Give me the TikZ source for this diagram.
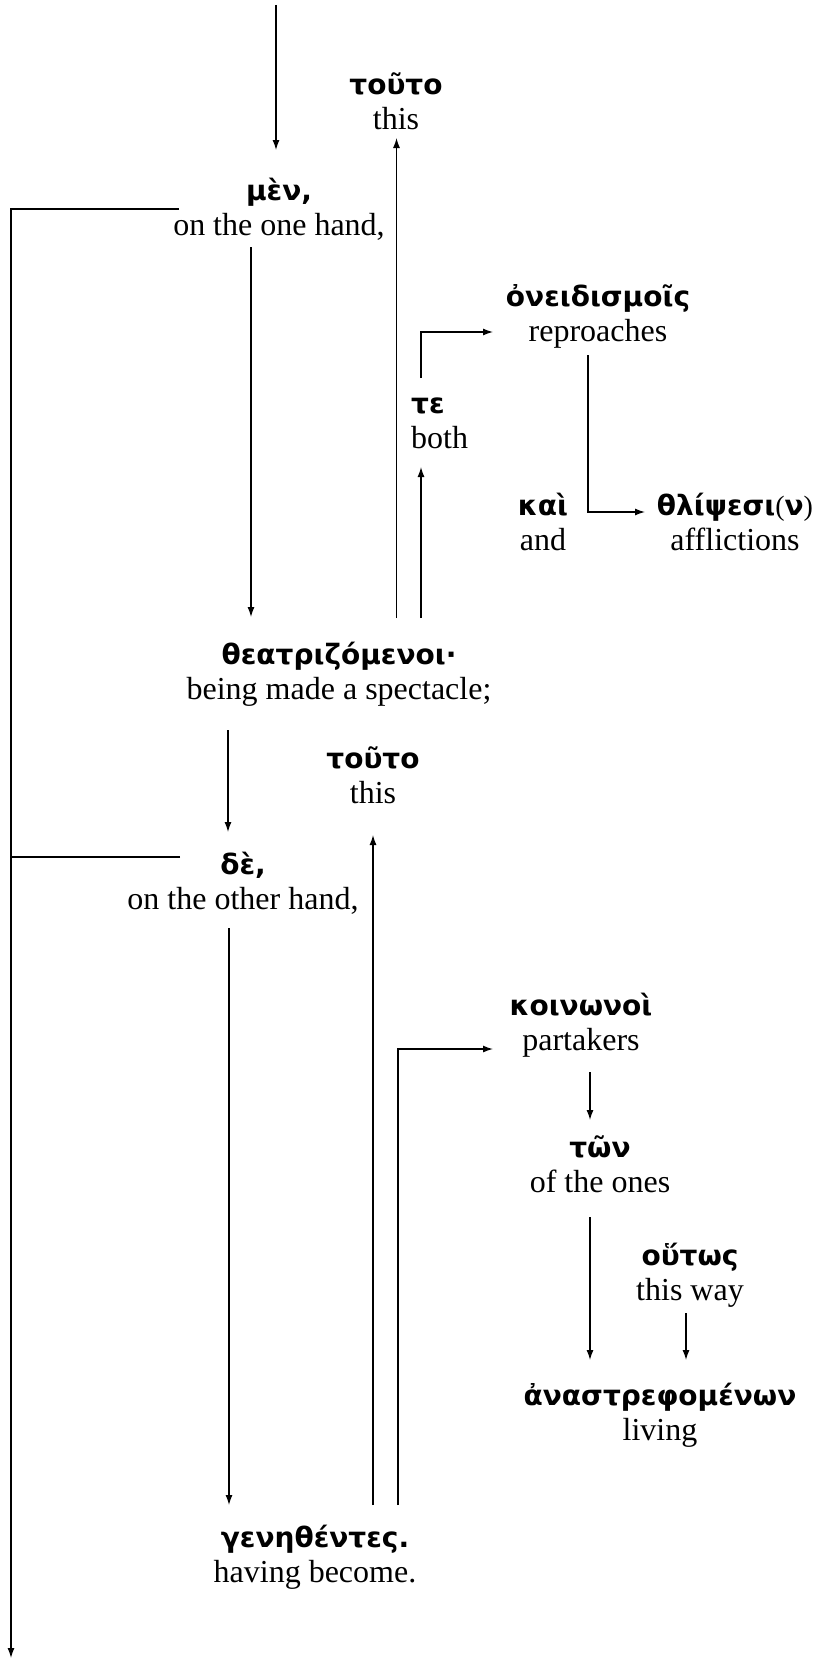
\documentclass[tikz,border=0pt]{standalone}
\usepackage{fontspec}
\setmainfont{Liberation Serif}
\newfontfamily\grk{DejaVu Sans}
\usetikzlibrary{arrows.meta,calc}
\newcommand\gw[2]{\rule{0pt}{27pt}{\grk\bfseries\fontsize{28}{35}\selectfont #1}\\#2\rule[-10.5pt]{0pt}{10.5pt}}
\begin{document}
\begin{tikzpicture}[x=1pt,y=-1pt,
 wordn/.style={inner sep=0pt,align=center,font=\fontsize{32}{35}\selectfont},
 ln/.style={line width=1.3pt},
 arr/.style={ln,-{Latex[length=10pt,width=7pt]}}]
\useasboundingbox (0,0) rectangle (812,1662);
\node[wordn] (men) at (279,210) {\gw{μὲν,}{on the one hand,}};
\node[wordn] (touto1) at (396,103.5) {\gw{τοῦτο}{this}};
\node[wordn] (oneid) at (598,315.5) {\gw{ὀνειδισμοῖς}{reproaches}};
\node[wordn,align=left,anchor=west] (te) at (411,422.5) {\gw{τε}{both}};
\node[wordn] (kai) at (543,524.5) {\gw{καὶ}{and}};
\node[wordn] (thlip) at (735,524.5) {\gw{θλίψεσι{\mdseries\rmfamily(}ν{\mdseries\rmfamily)}}{afflictions}};
\node[wordn] (theat) at (339,673.5) {\gw{θεατριζόμενοι·}{being made a spectacle;}};
\node[wordn] (touto2) at (373,777.5) {\gw{τοῦτο}{this}};
\node[wordn] (de) at (243,883.5) {\gw{δὲ,}{on the other hand,}};
\node[wordn] (koin) at (581,1025) {\gw{κοινωνοὶ}{partakers}};
\node[wordn] (ton) at (600,1166.5) {\gw{τῶν}{of the ones}};
\node[wordn] (houtos) at (690,1274.5) {\gw{οὕτως}{this way}};
\node[wordn] (anastr) at (660,1414.5) {\gw{ἀναστρεφομένων}{living}};
\node[wordn] (gen) at (315,1556.5) {\gw{γενηθέντες.}{having become.}};
\coordinate (topin) at (276,5);
\coordinate (leftend) at (11,1658);
\coordinate (menjoin) at ($(men)+(-100,-1)$);
\coordinate (dejoin) at ($(de)+(-63,-26.5)$);
\draw[arr] (topin) -- ($(men)+(-3,-60)$);
\draw[arr] (menjoin) -| (leftend);
\draw[ln] (dejoin) -- (dejoin -| leftend);
\draw[arr] ($(men)+(-28,37)$) -- ($(theat)+(-88,-56.5)$);
\draw[arr] ($(theat)+(57.5,-55.5)$) -- ($(touto1)+(0.5,34.5)$);
\draw[arr] ($(theat)+(82,-55.5)$) -- ($(te.west)+(10,44.5)$);
\draw[arr] ($(te.west)+(10,-44.5)$) |- ($(oneid)+(-105,16.5)$);
\draw[arr] ($(oneid)+(-10,39.5)$) |- ($(thlip)+(-90,-12.5)$);
\draw[arr] ($(theat)+(-111,56.5)$) -- ($(de)+(-15,-51.5)$);
\draw[arr] ($(de)+(-14,44.5)$) -- ($(gen)+(-86,-51.5)$);
\draw[arr] ($(gen)+(58,-51.5)$) -- ($(touto2)+(0,57.5)$);
\draw[arr] ($(gen)+(83,-51.5)$) |- ($(koin)+(-88,24)$);
\draw[arr] ($(koin)+(9,47)$) -- ($(ton)+(-10,-46.5)$);
\draw[arr] ($(ton)+(-10,50.5)$) -- ($(anastr)+(-70,-54.5)$);
\draw[arr] ($(houtos)+(-4,38.5)$) -- ($(anastr)+(26,-54.5)$);
\end{tikzpicture}
\end{document}
